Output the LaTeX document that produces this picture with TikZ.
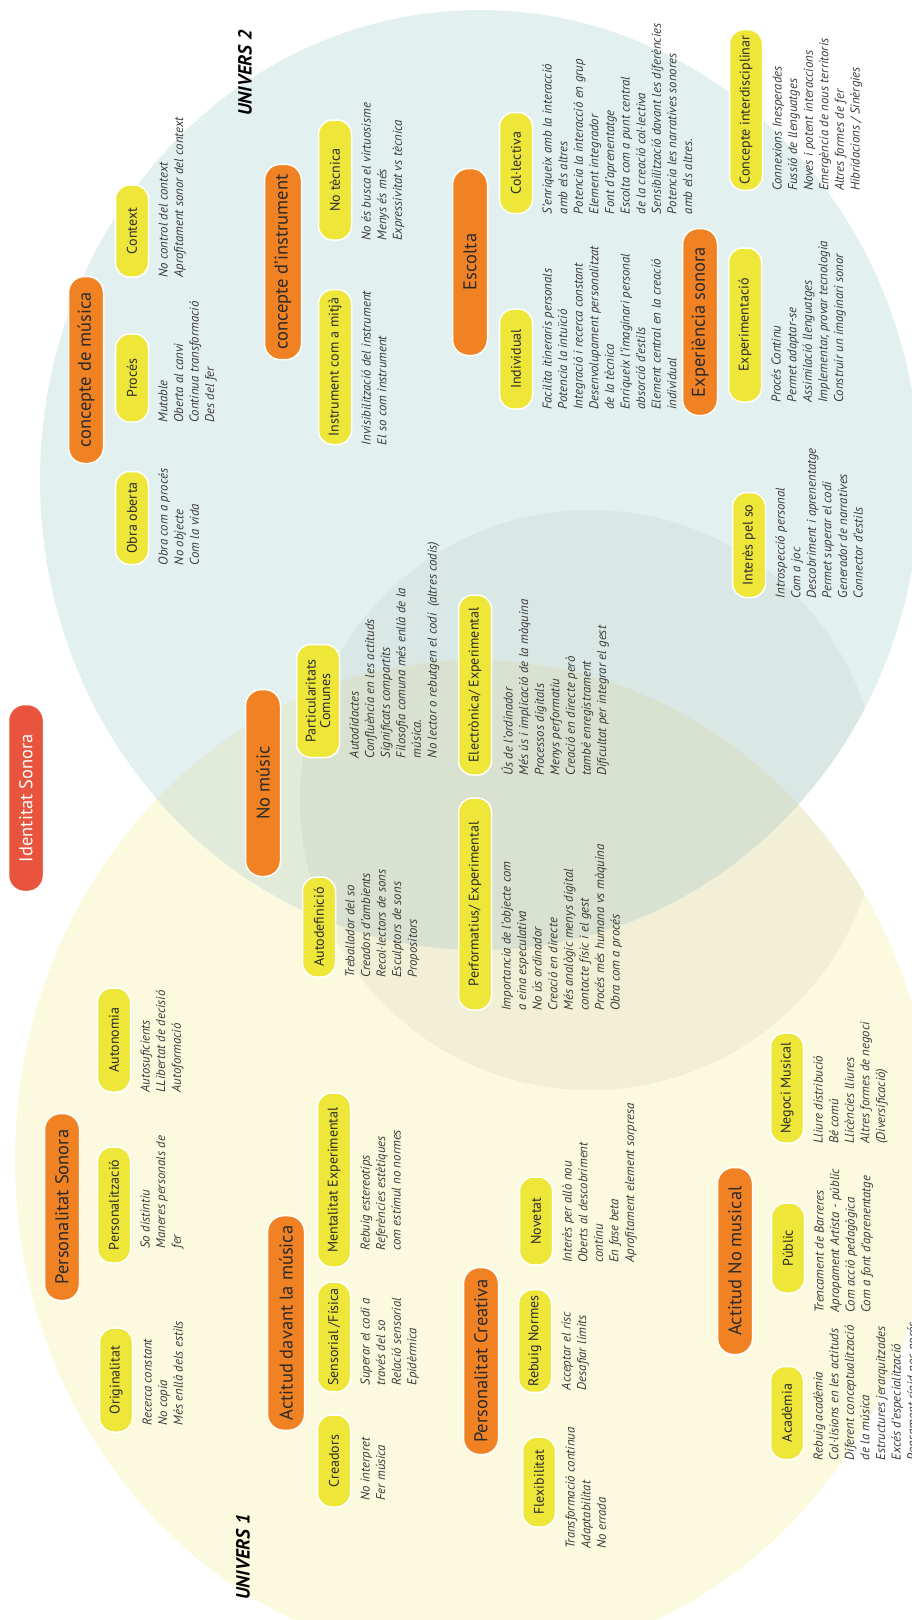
\documentclass[tikz,border=0pt]{standalone}
\usepackage{fontspec}
\setmainfont{PT Sans}
\usepackage{xcolor}
\usepackage{tikz}
\usetikzlibrary{positioning, calc}
\definecolor{pillorange}{HTML}{F18223}
\definecolor{boxyellow}{HTML}{EEE73A}
\definecolor{titlered}{HTML}{E9543F}
\definecolor{bgyellow}{HTML}{FBFADF}
\definecolor{bgblue}{HTML}{E2F1EF}
\definecolor{bgmix}{HTML}{E2EADA}
\definecolor{textdark}{HTML}{2A2A2A}
\definecolor{textgrey}{HTML}{3A3A3A}
\tikzset{
  mainpill/.style={rotate=90, rectangle, rounded corners=16pt, fill=pillorange, draw=white, line width=1.5pt, minimum height=35pt, minimum width=187pt, inner xsep=10pt, text=textdark, font=\fontsize{18.5}{21}\selectfont},
  titlepill/.style={mainpill, fill=titlered, text=white},
  subbox/.style={rotate=90, rectangle, rounded corners=14pt, fill=boxyellow, draw=white, line width=1.5pt, minimum height=33pt, minimum width=#1, inner xsep=6pt, align=center, text=textdark, font=\fontsize{14}{15}\selectfont},
  subbox/.default=88pt,
  desc/.style={rotate=90, anchor=north west, inner sep=0pt, align=left, text=textgrey, font=\itshape\fontsize{12.8}{15.6}\selectfont},
  univ/.style={rotate=90, text=black, font=\bfseries\itshape\fontsize{19}{22}\selectfont}
}

\begin{document}
\begin{tikzpicture}[x=1pt, y=1pt]
        \useasboundingbox (0,0) rectangle (912,-1620);

        % Background universes
        \fill[bgyellow] (475,-1160) ellipse [x radius=460, y radius=500];
        \fill[bgblue] (480,-480) ellipse [x radius=440, y radius=470];
        \begin{scope}
            \clip (475,-1160) ellipse [x radius=460, y radius=500];
            \fill[bgmix] (480,-480) ellipse [x radius=440, y radius=470];
        \end{scope}
        % shared zone
        \begin{scope}
            \clip (480,-480) ellipse [x radius=440, y radius=470];
            \fill[bgblue!96!black] (590,-800) circle [radius=290];
        \end{scope}
        \begin{scope}
            \clip (475,-1160) ellipse [x radius=460, y radius=500];
            \fill[bgyellow!96!black] (590,-800) circle [radius=290];
            \clip (480,-480) ellipse [x radius=440, y radius=470];
            \fill[bgmix!96!black] (590,-800) circle [radius=290];
        \end{scope}

        % Title and universe labels
        \node[titlepill] (tit) at (26,-798) {Identitat Sonora};
        \node[univ] (univA) at (243,-1557) {UNIVERS 1};
        \node[univ] (univB) at (245,-73) {UNIVERS 2};

        % Main branches
        \node[mainpill] (cmus) at (86,-370) {concepte de música};
        \node[mainpill, minimum height=37pt] (cins) at (283,-262) {concepte d'instrument};
        \node[mainpill] (esc) at (470,-262) {Escolta};
        \node[mainpill] (exps) at (700,-322) {Experiència sonora};
        \node[mainpill] (nomus) at (263,-783) {No músic};
        \node[mainpill] (psono) at (62,-1207) {Personalitat Sonora};
        \node[mainpill, minimum height=37pt] (actmus) at (286,-1323) {Actitud davant la música};
        \node[mainpill] (pcrea) at (481,-1361) {Personalitat Creativa};
        \node[mainpill] (actno) at (735,-1261) {Actitud No musical};

        % concepte de musica
        \node[subbox=93pt] (obra) at (132,-518) {Obra oberta};
        \node[desc] (obraT) at ([xshift=9pt]obra.south west) {Obra com a procés\\No objecte\\Com la vida};
        \node[subbox] (proces) at (132,-378) {Procés};
        \node[desc] (procesT) at ([xshift=9pt]proces.south west) {Mutable\\Oberta al canvi\\Continua transformació\\Des del fer};
        \node[subbox=92pt] (context) at (132,-231) {Context};
        \node[desc] (contextT) at ([xshift=9pt]context.south west) {No control del context\\Aprofitament sonor del context};

        % concepte d'instrument
        \node[subbox=155pt] (instr) at (335,-367) {Instrument com a mitjà};
        \node[desc] (instrT) at ([xshift=9pt]instr.south west) {Invisibilització del instrument\\El so com instrument};
        \node[subbox=120pt] (notec) at (335,-180) {No tècnica};
        \node[desc] (notecT) at ([xshift=9pt]notec.south west) {No és busca el virtuosisme\\Menys és més\\Expressivitat vs tècnica};

        % Escolta
        \node[subbox=100pt] (indiv) at (516,-359) {Individual};
        \node[desc] (indivT) at ([xshift=9pt]indiv.south west) {Facilita itineraris personals\\Potencia la intuïció\\Integració i recerca constant\\Desenvolupament personalitzat\\de la tècnica\\Enriqueix l'imaginari personal\\absorció d'estils\\Element central en la creació\\individual};
        \node[subbox=101pt] (colec) at (516,-163) {Col·lectiva};
        \node[desc] (colecT) at ([xshift=9pt]colec.south west) {S'enriqueix amb la interacció\\amb els altres\\Potencia la interacció en grup\\Element integrador\\Font d'aprenentatge\\Escolta com a punt central\\de la creació col·lectiva\\Sensibilització davant les diferències\\Potencia les narratives sonores\\amb els altres.};

        % Experiencia sonora
        \node[subbox=105pt] (interes) at (749,-545) {Interès pel so};
        \node[desc] (interesT) at ([xshift=9pt]interes.south west) {Introspecció personal\\Com a joc\\Descobriment i aprenentatge\\Permet superar el codi\\Generador de narratives\\Connector d'estils};
        \node[subbox=154pt] (expm) at (745,-325) {Experimentació};
        \node[desc] (expmT) at ([xshift=9pt]expm.south west) {Procés Continu\\Permet adaptar-se\\Assimilació llenguatges\\Implementar, provar tecnologia\\Construir un imaginari sonor};
        \node[subbox=160pt] (interd) at (746,-110) {Concepte interdisciplinar};
        \node[desc] (interdT) at ([xshift=9pt]interd.south west) {Connexions Inesperades\\Fussió de llenguatges\\Noves i potent interaccions\\Emergència de nous territoris\\Altres formes de fer\\Hibridacions / Sinèrgies};

        % No music
        \node[subbox=100pt] (autodef) at (319,-927) {Autodefinició};
        \node[desc] (autodefT) at ([xshift=9pt]autodef.south west) {Treballador del so\\Creadors d'ambients\\Recol·lectors de sons\\Esculptors de sons\\Propositors};
        \node[subbox=113pt, minimum height=43pt, font=\fontsize{14}{14.5}\selectfont] (partic) at (318,-701) {Particularitats\\Comunes};
        \node[desc] (particT) at ([xshift=9pt]partic.south west) {Autodidactes\\Confluència en les actituds\\Significats compartits\\Filosofia comuna més enllà de la\\música.\\No lector o rebutgen el codi~~(altres codis)};
        \node[subbox=212pt] (perfor) at (475,-904) {Performatius/ Experimental};
        \node[desc] (perforT) at ([xshift=9pt]perfor.south west) {Importancia de l'objecte com\\a eina especulativa\\No ús ordinador\\Creació en directe\\Més analògic menys digital\\contacte físic i el gest\\Procés més humana vs màquina\\Obra com a procés};
        \node[subbox=180pt] (electr) at (475,-685) {Electrònica/ Experimental};
        \node[desc] (electrT) at ([xshift=9pt]electr.south west) {Ús de l'ordinador\\Més ús i implicació de la màquina\\Processos digitals\\Menys performatiu\\Creació en directe però\\també enregistrament\\Dificultat per integrar el gest};

        % Personalitat sonora
        \node[subbox=104pt] (orig) at (116,-1380) {Originalitat};
        \node[desc] (origT) at ([xshift=9pt, yshift=7pt]orig.south west) {Recerca constant\\No copia\\Més enllà dels estils};
        \node[subbox=116pt] (person) at (114,-1205) {Personalització};
        \node[desc] (personT) at ([xshift=9pt, yshift=15pt]person.south west) {So distintiu\\Maneres personals de\\fer};
        \node[subbox=104pt] (autonom) at (114,-1040) {Autonomia};
        \node[desc] (autonomT) at ([xshift=9pt]autonom.south west) {Autosuficients\\LLibertat de decisió\\Autoformació};

        % Actitud davant la musica
        \node[subbox=92pt] (creadors) at (334,-1461) {Creadors};
        \node[desc] (creadorsT) at ([xshift=9pt, yshift=7pt]creadors.south west) {No interpret\\Fer música};
        \node[subbox=109pt] (sensor) at (334,-1337) {Sensorial /Física};
        \node[desc] (sensorT) at ([xshift=9pt, yshift=7pt]sensor.south west) {Superar el codi a\\través del so\\Relació sensorial\\Epidèrmica};
        \node[subbox=174pt] (mental) at (334,-1180) {Mentalitat Experimental};
        \node[desc] (mentalT) at ([xshift=9pt, yshift=17pt]mental.south west) {Rebuig estereotips\\Referències estètiques\\com estímul no normes};

        % Personalitat creativa
        \node[subbox=90pt] (flex) at (539,-1482) {Flexibilitat};
        \node[desc] (flexT) at ([xshift=9pt, yshift=-21pt]flex.south west) {Transformació continua\\Adaptabilitat\\No errada};
        \node[subbox=93pt] (rebuig) at (535,-1341) {Rebuig Normes};
        \node[desc] (rebuigT) at ([xshift=9pt, yshift=3pt]rebuig.south west) {Acceptar el risc\\Desafiar límits};
        \node[subbox] (novetat) at (536,-1221) {Novetat};
        \node[desc] (novetatT) at ([xshift=9pt, yshift=3pt]novetat.south west) {Interès per allò nou\\Oberts al descobriment\\continu\\En fase beta\\Aprofitament element sorpresa};

        % Actitud no musical
        \node[subbox=93pt] (acad) at (787,-1413) {Acadèmia};
        \node[desc] (acadT) at ([xshift=9pt]acad.south west) {Rebuig acadèmia\\Col·lisions en les actituds\\Diferent conceptualització\\de la música\\Estructures jerarquitzades\\Excés d'especialització\\Pensament rígid poc porós};
        \node[subbox=90pt] (public) at (788,-1248) {Públic};
        \node[desc] (publicT) at ([xshift=9pt, yshift=-19pt]public.south west) {Trencament de Barreres\\Apropament Artista - públic\\Com acció pedagògica\\Com a font d'aprenentatge};
        \node[subbox=110pt] (negoci) at (787,-1088) {Negoci Musical};
        \node[desc] (negociT) at ([xshift=9pt]negoci.south west) {Lliure distribució\\Bé comú\\Llicències lliures\\Altres formes de negoci\\(Diversificació)};

    \end{tikzpicture}
\end{document}
